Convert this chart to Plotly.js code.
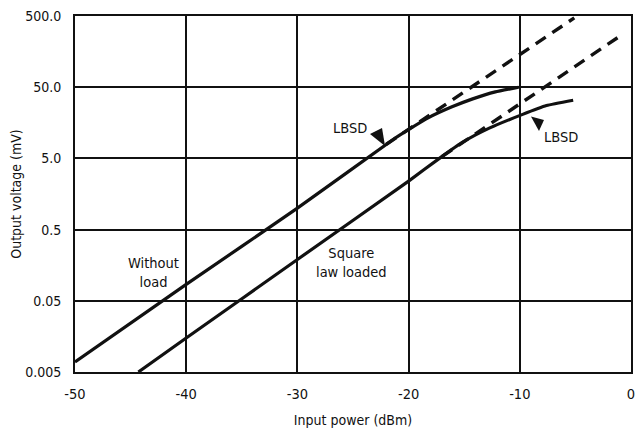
<!DOCTYPE html>
<html>
<head>
<meta charset="utf-8">
<script src="https://cdn.plot.ly/plotly-3.0.1.min.js"></script>
<style>html,body{margin:0;padding:0;background:#fff;}#chart{width:639px;height:428px;}</style>
</head>
<body>
<div id="chart"></div>
<script>
// Data
const noLoadX = [-50, -40, -30, -21.2, -19.9, -18.2, -16.1, -14.3, -12.2, -10.1];
const noLoadY = [0.0069, 0.085, 1.0, 9.66, 13.0, 18.7, 26.5, 34, 43, 50];
const noLoadExtX = [-22, -5.1];
const noLoadExtY = [7.9, 470];

const loadedX = [-44.3, -40, -30, -20, -17.2, -15.1, -12.7, -9.8, -7.6, -5.2];
const loadedY = [0.005, 0.015, 0.19, 2.4, 5.05, 8.5, 13.4, 20.6, 27.6, 32.8];
const loadedExtX = [-17, -1.0];
const loadedExtY = [5.3, 261];

const xTicks = [-50, -40, -30, -20, -10, 0];
const xTickText = ["-50", "-40", "-30", "-20", "-10", "0"];
const yTicks = [0.005, 0.05, 0.5, 5, 50, 500];
const yTickText = ["0.005", "0.05", "0.5", "5.0", "50.0", "500.0"];

const FONT = "'DejaVu Sans Condensed', 'Liberation Sans Narrow', sans-serif";

const solid = {color: '#111', width: 3.2, shape: 'spline', smoothing: 0.4};
const dashed = {color: '#111', width: 3.4, dash: '12px,8px'};

const traces = [
  {x: noLoadX, y: noLoadY, mode: 'lines', line: solid, hoverinfo: 'skip'},
  {x: loadedX, y: loadedY, mode: 'lines', line: solid, hoverinfo: 'skip'},
  {x: noLoadExtX, y: noLoadExtY, mode: 'lines', line: dashed, hoverinfo: 'skip'},
  {x: loadedExtX, y: loadedExtY, mode: 'lines', line: dashed, hoverinfo: 'skip'}
];

const L = Math.log10;
const annFont = {family: FONT, size: 14.5, color: '#111'};
const layout = {
  width: 639, height: 428,
  margin: {l: 75, r: 8, t: 16, b: 56},
  paper_bgcolor: '#fff', plot_bgcolor: '#fff',
  showlegend: false,
  font: {family: FONT, size: 14, color: '#111'},
  xaxis: {
    range: [-50, 0], tickvals: xTicks, ticktext: xTickText,
    showgrid: true, gridcolor: '#111', gridwidth: 2,
    showline: true, linecolor: '#111', linewidth: 2, mirror: true,
    zeroline: false, ticks: 'outside', ticklen: 8, tickcolor: 'rgba(0,0,0,0)',
    tickfont: {family: FONT, size: 14.5, color: '#111'},
    title: {text: 'Input power (dBm)', font: {family: FONT, size: 14, color: '#111'}, standoff: 14}
  },
  yaxis: {
    type: 'log', range: [L(0.005), L(500)], tickvals: yTicks, ticktext: yTickText,
    showgrid: true, gridcolor: '#111', gridwidth: 2,
    showline: true, linecolor: '#111', linewidth: 2, mirror: true,
    zeroline: false, ticks: 'outside', ticklen: 9, tickcolor: 'rgba(0,0,0,0)',
    tickfont: {family: FONT, size: 14, color: '#111'},
    title: {text: 'Output voltage (mV)', font: {family: FONT, size: 14, color: '#111'}, standoff: 0}
  },
  annotations: [
    {x: -42.9, y: L(0.123), text: 'Without<br>load', showarrow: false, font: annFont, align: 'center'},
    {x: -25.1, y: L(0.17), text: 'Square<br>law loaded', showarrow: false, font: annFont, align: 'center'},
    {x: -25.27, y: L(13.4), text: 'LBSD', showarrow: false, font: annFont},
    {x: -6.29, y: L(9.84), text: 'LBSD', showarrow: false, font: annFont}
  ],
  shapes: [
    {type: 'path', xref: 'paper', yref: 'paper', fillcolor: '#111', line: {width: 0},
     path: 'M0.5576,0.6348 L0.5306,0.6685 L0.5522,0.6854 Z'},
    {type: 'path', xref: 'paper', yref: 'paper', fillcolor: '#111', line: {width: 0},
     path: 'M0.8201,0.7177 L0.8435,0.7079 L0.8345,0.6770 Z'}
  ]
};

Plotly.newPlot('chart', traces, layout, {staticPlot: true, displayModeBar: false});
</script>
</body>
</html>
